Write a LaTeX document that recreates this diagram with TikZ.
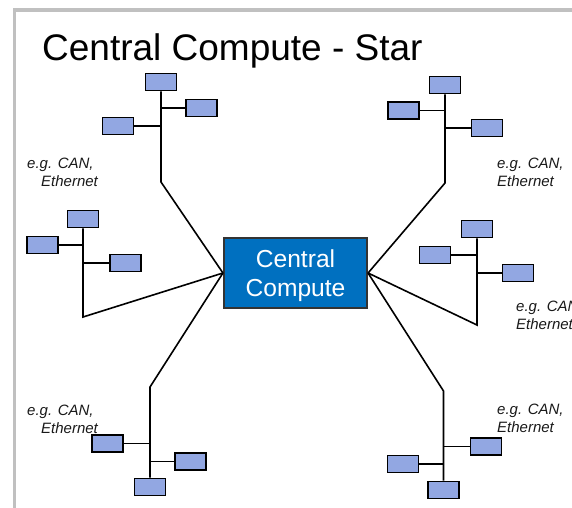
\documentclass[tikz,border=0pt]{standalone}
\usepackage{fontspec}
\setmainfont{Liberation Sans}
\definecolor{devfill}{RGB}{146,167,226}
\definecolor{ccfill}{RGB}{0,112,192}
\definecolor{framegray}{RGB}{192,192,192}
\begin{document}
\begin{tikzpicture}[x=1pt,y=-1pt,
  dev/.style={draw=black, line width=1.8pt, fill=devfill,
    minimum width=31pt, minimum height=17pt, inner sep=0pt},
  bus/.style={draw=black, line width=1.6pt},
  note/.style={font=\fontsize{15}{18}\selectfont\itshape, align=left,
    inner sep=0pt, anchor=base west, text=black!90}]
\useasboundingbox (0,0) rectangle (572,507);
\clip (0,0) rectangle (572,507);

% slide frame
\draw[framegray, line width=3.3pt] (14.3,600) -- (14.3,10) -- (600,10);

% title
\node[anchor=base west, inner sep=0pt, font=\fontsize{37}{44}\selectfont]
  (title) at (42,60) {Central Compute - Star};

% central hub
\node[draw=black!80, line width=1.6pt, fill=ccfill, minimum width=143.5pt,
  minimum height=70.5pt, inner sep=0pt, align=center, text=white,
  font=\fontsize{24.6}{29}\selectfont] (cc) at (295.5,273)
  {\rule{0pt}{24pt}Central\\Compute};

% upper left bus
\node[dev] (tlA) at (161,82) {};
\node[dev] (tlB) at (201.5,108) {};
\node[dev] (tlC) at (118,126) {};
\coordinate (tlEnd) at (161,182);
\draw[bus] (tlA.south) -- (tlEnd) -- (cc.west);
\draw[bus] (tlB.west) -- (tlB.west -| tlEnd);
\draw[bus] (tlC.east) -- (tlC.east -| tlEnd);

% upper right bus
\node[dev] (trA) at (445,85) {};
\node[dev] (trB) at (403.5,110.5) {};
\node[dev] (trC) at (487,128) {};
\coordinate (trEnd) at (445,183);
\draw[bus] (trA.south) -- (trEnd) -- (cc.east);
\draw[bus] (trB.east) -- (trB.east -| trEnd);
\draw[bus] (trC.west) -- (trC.west -| trEnd);

% middle left bus
\node[dev] (lmA) at (83,219) {};
\node[dev] (lmB) at (42.5,245) {};
\node[dev] (lmC) at (125.5,263) {};
\coordinate (lmEnd) at (83,317);
\draw[bus] (lmA.south) -- (lmEnd) -- (cc.west);
\draw[bus] (lmB.east) -- (lmB.east -| lmEnd);
\draw[bus] (lmC.west) -- (lmC.west -| lmEnd);

% middle right bus
\node[dev] (rmA) at (477,229) {};
\node[dev] (rmB) at (435,255) {};
\node[dev] (rmC) at (518,273) {};
\coordinate (rmEnd) at (477,325);
\draw[bus] (rmA.south) -- (rmEnd) -- (cc.east);
\draw[bus] (rmB.east) -- (rmB.east -| rmEnd);
\draw[bus] (rmC.west) -- (rmC.west -| rmEnd);

% lower left bus
\node[dev] (blA) at (150,487) {};
\node[dev] (blB) at (107.5,443.5) {};
\node[dev] (blC) at (190.5,461.5) {};
\coordinate (blEnd) at (150,387);
\draw[bus] (cc.west) -- (blEnd) -- (blA.north);
\draw[bus] (blB.east) -- (blB.east -| blEnd);
\draw[bus] (blC.west) -- (blC.west -| blEnd);

% lower right bus
\node[dev] (brA) at (443.5,490) {};
\node[dev] (brB) at (486,446.5) {};
\node[dev] (brC) at (403,464) {};
\coordinate (brEnd) at (443.5,391);
\draw[bus] (cc.east) -- (brEnd) -- (brA.north);
\draw[bus] (brB.west) -- (brB.west -| brEnd);
\draw[bus] (brC.east) -- (brC.east -| brEnd);

% bus type notes
\node[note] (ntl) at (27,186) {e.g. CAN,\\\hspace*{14pt}Ethernet};
\node[note] (ntr) at (497,186) {e.g. CAN,\\Ethernet};
\node[note] (nrm) at (516,329) {e.g. CAN,\\Ethernet};
\node[note] (nbl) at (27,433) {e.g. CAN,\\\hspace*{14pt}Ethernet};
\node[note] (nbr) at (497,432) {e.g. CAN,\\Ethernet};
\end{tikzpicture}
\end{document}
